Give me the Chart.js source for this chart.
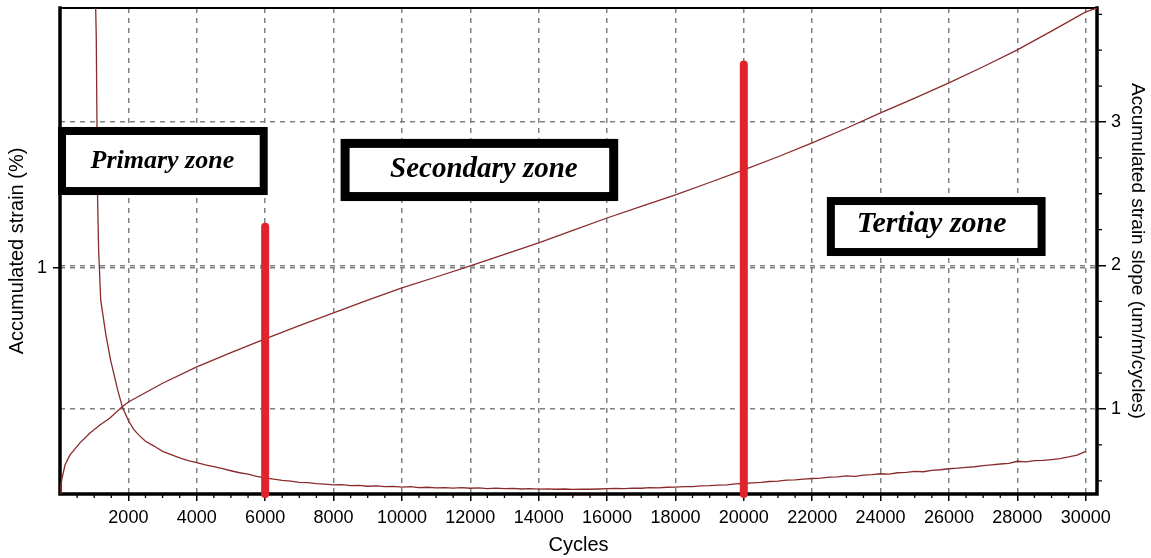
<!DOCTYPE html>
<html>
<head>
<meta charset="utf-8">
<script src="https://cdn.jsdelivr.net/npm/chart.js@4.4.0/dist/chart.umd.min.js"></script>
<style>
html,body{margin:0;padding:0;background:#ffffff;}
#wrap{width:1151px;height:558px;}
</style>
</head>
<body>
<div id="wrap"><canvas id="c" width="1151" height="558"></canvas></div>
<script>
// ---------------- DATA ----------------
const strainCycles = [0, 25, 50, 146, 292, 584, 876, 1168, 1460, 1811, 2000, 3000, 4000, 5000, 6000, 7000, 8000, 9000, 10000, 11000, 12000, 13000, 14000, 15000, 16000, 17000, 18000, 19000, 20000, 21000, 22000, 23000, 24000, 25000, 26000, 27000, 28000, 29000, 30000, 30330];
const strainValues = [0, 0.035, 0.062, 0.128, 0.173, 0.226, 0.270, 0.305, 0.336, 0.385, 0.407, 0.490, 0.562, 0.625, 0.686, 0.745, 0.801, 0.858, 0.912, 0.960, 1.009, 1.060, 1.111, 1.166, 1.221, 1.272, 1.323, 1.378, 1.434, 1.492, 1.553, 1.618, 1.686, 1.751, 1.819, 1.890, 1.965, 2.048, 2.133, 2.150];

const slopeCycles = [1000, 1060, 1100, 1130, 1190, 1340, 1480, 1690, 1830, 2000, 2150, 2300,
  2500, 2750, 3000, 3250, 3500, 3750, 4000, 4250, 4500, 4750, 5000, 5250, 5500, 5750, 6000, 6250, 6500, 6750,
  7000, 7250, 7500, 7750, 8000, 8250, 8500, 8750, 9000, 9250, 9500, 9750, 10000, 10250, 10500, 10750,
  11000, 11250, 11500, 11750, 12000, 12250, 12500, 12750, 13000, 13250, 13500, 13750, 14000, 14250, 14500, 14750,
  15000, 15250, 15500, 15750, 16000, 16250, 16500, 16750, 17000, 17250, 17500, 17750, 18000, 18250, 18500, 18750,
  19000, 19250, 19500, 19750, 20000, 20250, 20500, 20750, 21000, 21250, 21500, 21750, 22000, 22250, 22500, 22750,
  23000, 23250, 23500, 23750, 24000, 24250, 24500, 24750, 25000, 25250, 25500, 25750, 26000, 26250, 26500, 26750,
  27000, 27250, 27500, 27750, 28000, 28250, 28500, 28750, 29000, 29250, 29500, 29750, 30000];
const slopeValues = [4.30, 3.60, 2.46, 2.11, 1.76, 1.52, 1.34, 1.13, 1.01, 0.92, 0.86, 0.82,
  0.775, 0.742, 0.705, 0.682, 0.660, 0.641, 0.626, 0.611, 0.598, 0.584, 0.570, 0.556, 0.546, 0.531, 0.521, 0.511, 0.503, 0.498,
  0.489, 0.487, 0.480, 0.477, 0.471, 0.473, 0.466, 0.468, 0.462, 0.465, 0.459, 0.461, 0.456, 0.459, 0.452, 0.455,
  0.451, 0.453, 0.449, 0.452, 0.448, 0.451, 0.446, 0.449, 0.445, 0.447, 0.443, 0.446, 0.442, 0.444, 0.441, 0.443,
  0.440, 0.442, 0.441, 0.443, 0.445, 0.447, 0.446, 0.449, 0.448, 0.452, 0.451, 0.455, 0.456, 0.460, 0.459, 0.464,
  0.466, 0.470, 0.472, 0.478, 0.481, 0.486, 0.489, 0.495, 0.497, 0.504, 0.506, 0.512, 0.516, 0.518, 0.525, 0.528,
  0.534, 0.531, 0.540, 0.543, 0.549, 0.547, 0.556, 0.559, 0.565, 0.563, 0.572, 0.577, 0.584, 0.588, 0.594, 0.598,
  0.606, 0.611, 0.617, 0.621, 0.636, 0.632, 0.640, 0.642, 0.648, 0.655, 0.666, 0.679, 0.705];

const zoneBoundaryCycles = [6000, 20000];
const zoneBoundaryTops = [2.27, 3.40];
const zoneLabels = ['Primary zone', 'Secondary zone', 'Tertiay zone'];

const xTickValues = [2000, 4000, 6000, 8000, 10000, 12000, 14000, 16000, 18000, 20000, 22000, 24000, 26000, 28000, 30000];
const strainTickValues = [1];
const slopeTickValues = [1, 2, 3];

const xTitle = 'Cycles';
const strainTitle = 'Accumulated strain (%)';
const slopeTitle = 'Accumulated strain slope (um/m/cycles)';

// ---------------- LAYOUT / STYLE ----------------
const X_RANGE = [0, 30330];
const STRAIN_RANGE = [0, 2.15];
const SLOPE_RANGE = [0.408, 3.794];
const X_MINOR_STEP = 500;
const SLOPE_MINOR_STEP = 0.25;
const CURVE_COLOR = '#8a2b2b';
const BAR_COLOR = '#e1232b';
const GRID_COLOR = '#808080';
const GRID_DASH = [5, 5];

// zone boxes placed in data units (x: cycles, y: slope axis)
const zoneBoxStyle = [
  {x0: -58,   x1: 6075,  y0: 2.965, y1: 2.491, border: 8, font: 26, tx: 2994,  ty: 2.679},
  {x0: 8207,  x1: 16326, y0: 2.882, y1: 2.449, border: 9, font: 29, tx: 12398, ty: 2.617},
  {x0: 22430, x1: 28826, y0: 2.477, y1: 2.066, border: 8, font: 30, tx: 25496, ty: 2.233}
];

const toXY = (xs, ys) => xs.map((x, i) => ({x: x, y: ys[i]}));

const datasets = [];
zoneBoundaryCycles.forEach((c, i) => {
  datasets.push({
    data: [{x: c, y: SLOPE_RANGE[0]}, {x: c, y: zoneBoundaryTops[i]}],
    yAxisID: 'y2', borderColor: BAR_COLOR, borderWidth: 8, borderCapStyle: 'round',
    pointRadius: 0, clip: false
  });
});
datasets.push({data: toXY(slopeCycles, slopeValues), yAxisID: 'y2', borderColor: CURVE_COLOR, borderWidth: 1.3, pointRadius: 0, tension: 0});
datasets.push({data: toXY(strainCycles, strainValues), yAxisID: 'y', borderColor: CURVE_COLOR, borderWidth: 1.3, pointRadius: 0, tension: 0});

const frameAndZones = {
  id: 'frameAndZones',
  beforeDatasetsDraw(chart) {
    const {ctx, chartArea: a, scales} = chart;
    ctx.save();
    ctx.strokeStyle = '#000';
    ctx.lineWidth = 1.3;
    ctx.beginPath();
    for (let v = X_MINOR_STEP; v <= X_RANGE[1]; v += X_MINOR_STEP) {
      if (xTickValues.includes(v)) continue;
      const px = scales.x.getPixelForValue(v);
      ctx.moveTo(px, a.bottom); ctx.lineTo(px, a.bottom + 4);
    }
    for (let v = 0.5; v <= SLOPE_RANGE[1]; v += SLOPE_MINOR_STEP) {
      if (slopeTickValues.includes(v)) continue;
      const py = scales.y2.getPixelForValue(v);
      ctx.moveTo(a.right, py); ctx.lineTo(a.right + 5, py);
    }
    ctx.stroke();
    ctx.lineCap = 'square';
    ctx.lineWidth = 3.5;
    ctx.beginPath();
    ctx.moveTo(a.left, a.top); ctx.lineTo(a.left, a.bottom); ctx.lineTo(a.right, a.bottom); ctx.lineTo(a.right, a.top);
    ctx.stroke();
    ctx.lineWidth = 2;
    ctx.beginPath();
    ctx.moveTo(a.left, a.top); ctx.lineTo(a.right, a.top);
    ctx.stroke();
    ctx.restore();
  },
  afterDatasetsDraw(chart) {
    const {ctx, scales} = chart;
    ctx.save();
    zoneBoxStyle.forEach((b, i) => {
      const x0 = scales.x.getPixelForValue(b.x0), x1 = scales.x.getPixelForValue(b.x1);
      const y0 = scales.y2.getPixelForValue(b.y0), y1 = scales.y2.getPixelForValue(b.y1);
      ctx.fillStyle = '#000';
      ctx.fillRect(x0, y0, x1 - x0, y1 - y0);
      ctx.fillStyle = '#fff';
      ctx.fillRect(x0 + b.border, y0 + b.border, x1 - x0 - 2 * b.border, y1 - y0 - 2 * b.border);
      ctx.fillStyle = '#000';
      ctx.font = 'italic bold ' + b.font + "px 'Liberation Serif', 'DejaVu Serif', serif";
      ctx.textAlign = 'center';
      ctx.textBaseline = 'alphabetic';
      ctx.fillText(zoneLabels[i], scales.x.getPixelForValue(b.tx), scales.y2.getPixelForValue(b.ty));
    });
    ctx.restore();
  }
};

Chart.defaults.font.family = "'Liberation Sans', Arial, sans-serif";
Chart.defaults.color = '#000';

const fitV = w => s => { s.width = w; s.paddingTop = 0; s.paddingBottom = 0; };

new Chart(document.getElementById('c'), {
  type: 'line',
  data: {datasets: datasets},
  options: {
    responsive: false,
    animation: false,
    devicePixelRatio: 1,
    layout: {padding: {top: 8, left: 0, right: 0, bottom: 0}},
    plugins: {legend: {display: false}, tooltip: {enabled: false}},
    scales: {
      x: {
        type: 'linear', position: 'bottom', min: X_RANGE[0], max: X_RANGE[1],
        afterBuildTicks: s => { s.ticks = xTickValues.map(v => ({value: v})); },
        afterFit: s => { s.height = 64; s.paddingLeft = 0; s.paddingRight = 0; },
        ticks: {callback: v => String(v), font: {size: 18}, color: '#000', padding: 6, maxRotation: 0, autoSkip: false},
        grid: {color: GRID_COLOR, lineWidth: 1.5, tickColor: '#000', tickWidth: 1.5, tickLength: 7},
        border: {display: false, dash: GRID_DASH},
        title: {display: true, text: xTitle, font: {size: 20}, color: '#000', padding: {top: 0, bottom: 1}}
      },
      y: {
        type: 'linear', position: 'left', min: STRAIN_RANGE[0], max: STRAIN_RANGE[1],
        afterBuildTicks: s => { s.ticks = strainTickValues.map(v => ({value: v})); },
        afterFit: fitV(60),
        ticks: {font: {size: 18}, color: '#000', padding: 6},
        grid: {color: GRID_COLOR, lineWidth: 1.5, tickColor: '#000', tickWidth: 1.5, tickLength: 7},
        border: {display: false, dash: GRID_DASH},
        title: {display: true, text: strainTitle, font: {size: 20}, color: '#000', padding: {top: 5, bottom: 0}}
      },
      y2: {
        type: 'linear', position: 'right', min: SLOPE_RANGE[0], max: SLOPE_RANGE[1],
        afterBuildTicks: s => { s.ticks = slopeTickValues.map(v => ({value: v})); },
        afterFit: fitV(54),
        ticks: {font: {size: 18}, color: '#000', padding: 5},
        grid: {color: GRID_COLOR, lineWidth: 1.5, tickColor: '#000', tickWidth: 1.5, tickLength: 9},
        border: {display: false, dash: GRID_DASH},
        title: {display: true, text: slopeTitle, font: {size: 19}, color: '#000', padding: {top: 2, bottom: 0}}
      }
    }
  },
  plugins: [frameAndZones]
});
</script>
</body>
</html>
